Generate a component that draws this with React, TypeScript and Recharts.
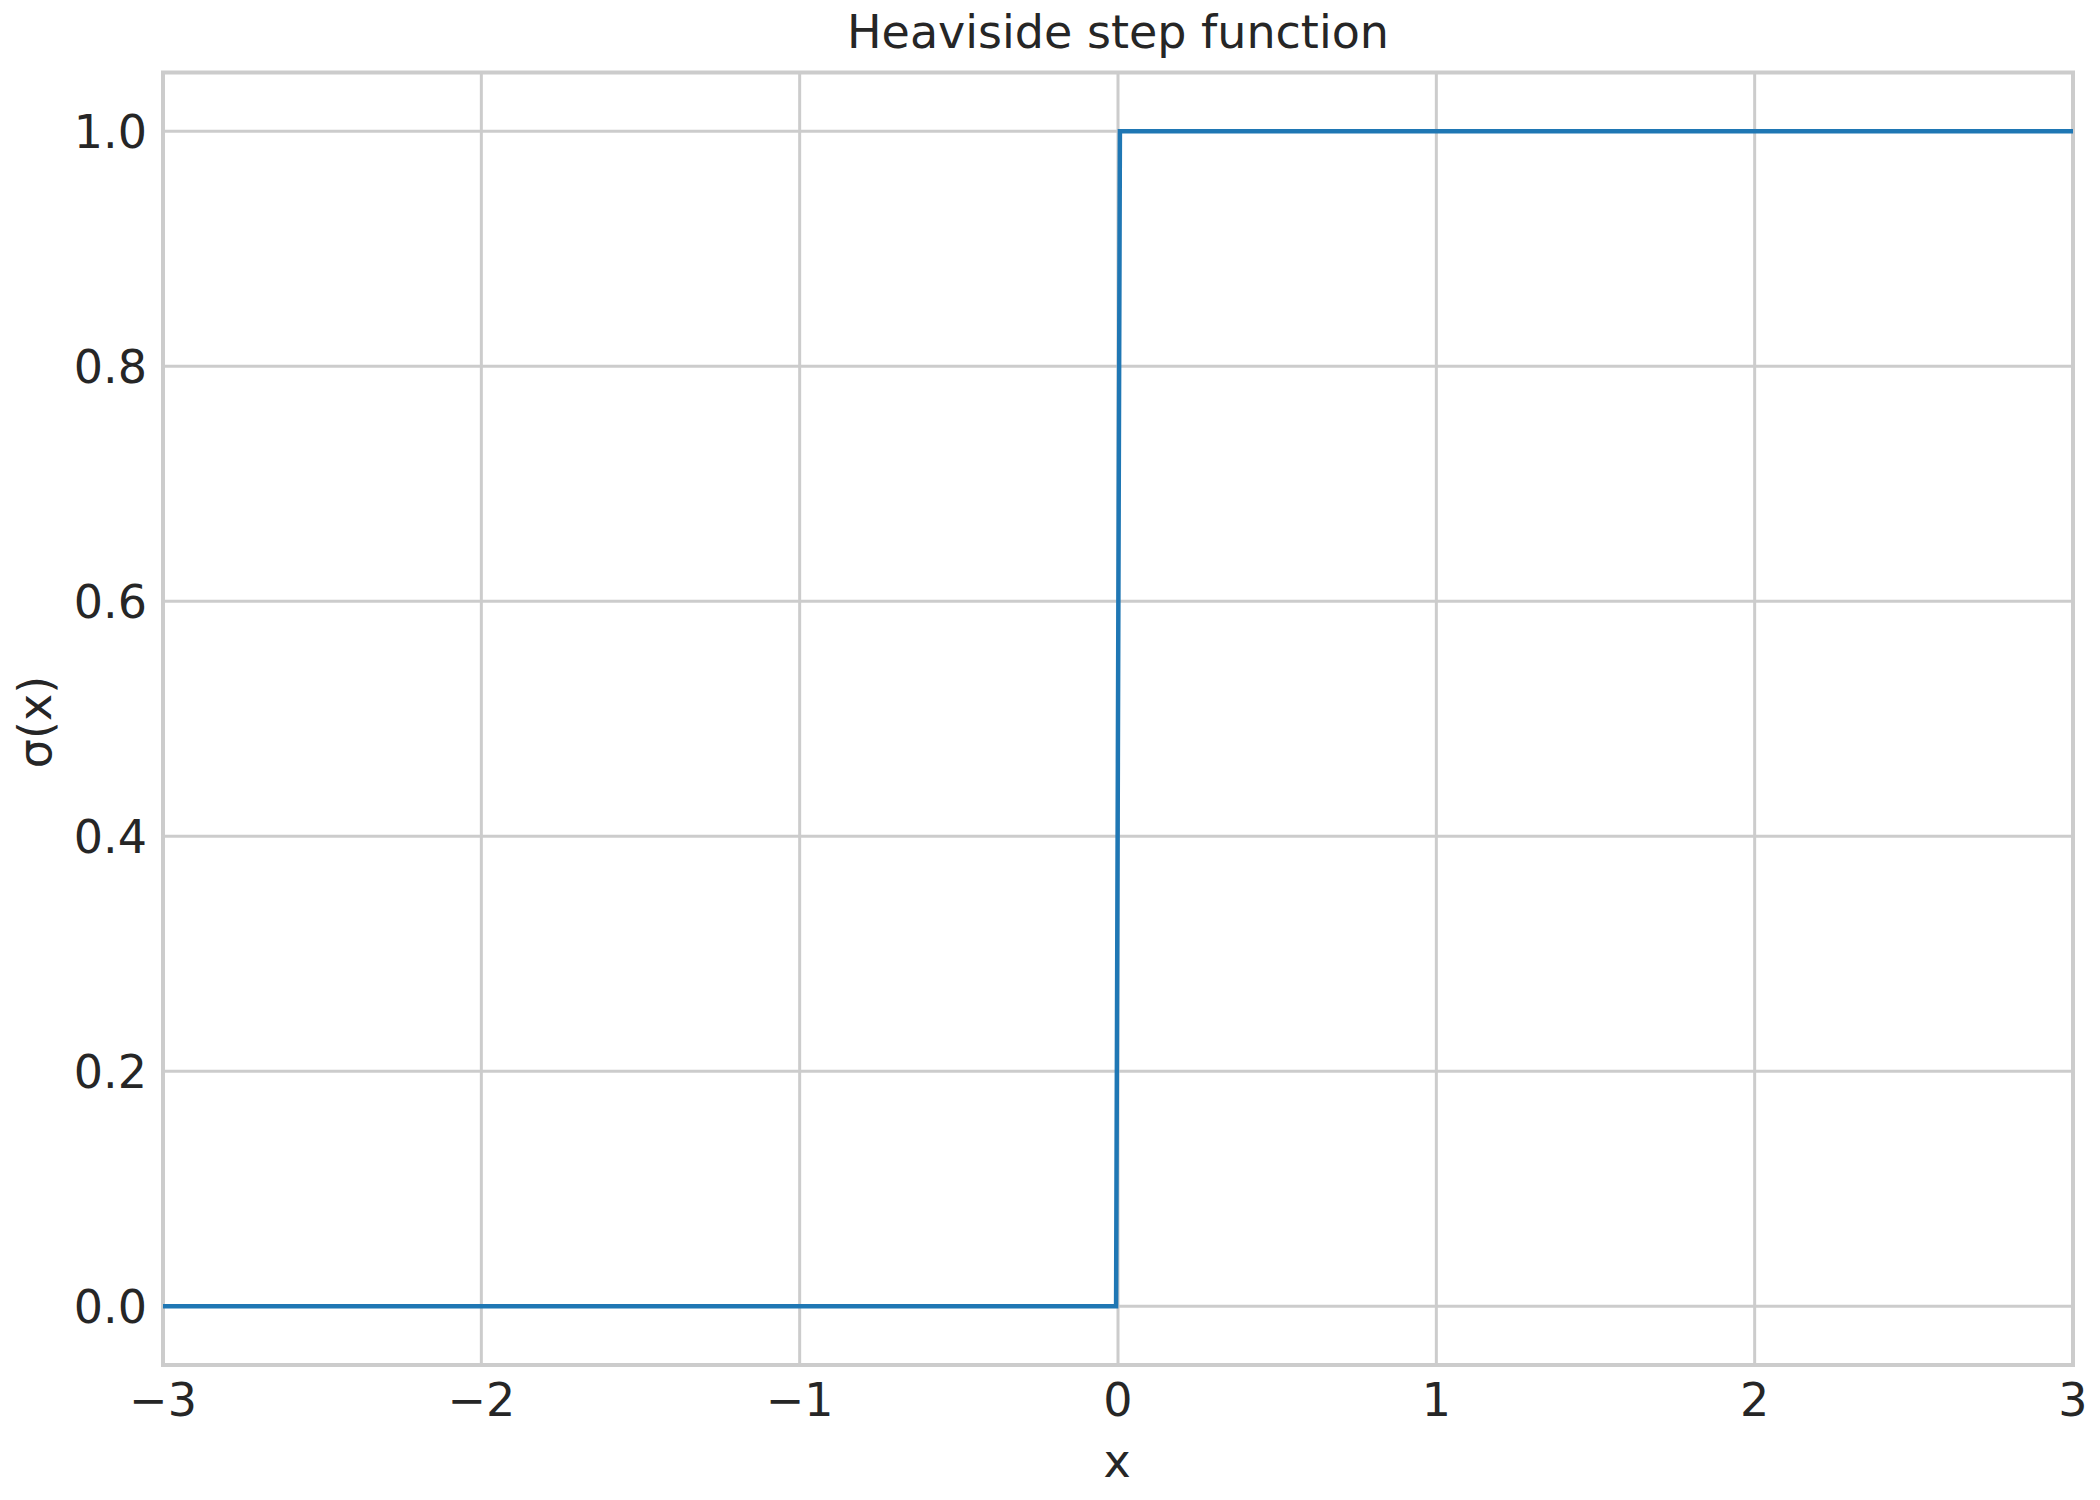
import React from "react";
import {
  LineChart,
  Line,
  XAxis,
  YAxis,
  CartesianGrid,
  ReferenceArea,
} from "recharts";

const xValues = [-3, -0.006, 0.006, 3];
const yValues = [0, 0, 1, 1];
const xTicks = [-3, -2, -1, 0, 1, 2, 3];
const yTicks = [0, 0.2, 0.4, 0.6, 0.8, 1.0];
const titleText = "Heaviside step function";
const xLabelText = "x";
const yLabelText = "σ(x)";

const data = xValues.map((x, i) => ({ x, y: yValues[i] }));

const FONT = "'DejaVu Sans', sans-serif";
const TEXT = "#262626";
const GRID = "#cccccc";

const W = 2092;
const H = 1492;

export default function App() {
  return (
    <div style={{ position: "relative", width: W, height: H }}>
      <LineChart
        width={W}
        height={H}
        data={data}
        margin={{ top: 64.6, right: 27, bottom: 0, left: 0 }}
      >
        <CartesianGrid stroke={GRID} strokeWidth={3} />
        <XAxis
          dataKey="x"
          type="number"
          domain={[-3, 3]}
          ticks={xTicks}
          allowDataOverflow
          height={135}
          axisLine={false}
          tickLine={false}
          tickSize={0}
          tickMargin={18}
          tick={{ fill: TEXT, fontSize: 46, fontFamily: FONT }}
          tickFormatter={(v: number) => String(v).replace("-", "\u2212")}
        />
        <YAxis
          type="number"
          domain={[-0.05, 1.05]}
          ticks={yTicks}
          allowDataOverflow
          width={155}
          axisLine={false}
          tickLine={false}
          tickSize={0}
          tickMargin={16}
          tick={{ fill: TEXT, fontSize: 46, fontFamily: FONT }}
          tickFormatter={(v: number) => v.toFixed(1)}
        />
        <Line
          type="linear"
          dataKey="y"
          stroke="#1f77b4"
          strokeWidth={4.5}
          dot={false}
          activeDot={false}
          isAnimationActive={false}
        />
        <ReferenceArea
          x1={-3}
          x2={3}
          y1={-0.05}
          y2={1.05}
          fill="none"
          fillOpacity={0}
          stroke={GRID}
          strokeWidth={4}
          ifOverflow="visible"
        />
      </LineChart>
      <svg
        width={2100}
        height={1500}
        style={{
          position: "absolute",
          left: -8,
          top: -8,
          pointerEvents: "none",
          overflow: "visible",
        }}
      >
        <text
          x={1118}
          y={48.3}
          textAnchor="middle"
          fill={TEXT}
          fontSize={46}
          fontFamily={FONT}
        >
          {titleText}
        </text>
        <text
          x={1117}
          y={1477}
          textAnchor="middle"
          fill={TEXT}
          fontSize={46}
          fontFamily={FONT}
        >
          {xLabelText}
        </text>
        <text
          x={51}
          y={722}
          textAnchor="middle"
          fill={TEXT}
          fontSize={46}
          fontFamily={FONT}
          transform="rotate(-90, 51, 722)"
        >
          {yLabelText}
        </text>
      </svg>
    </div>
  );
}
